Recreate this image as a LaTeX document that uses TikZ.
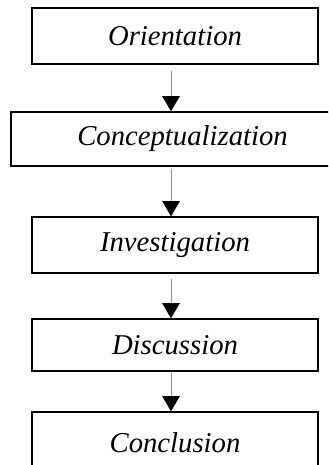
\documentclass[tikz,border=0pt]{standalone}
\usepackage{fontspec}
\setmainfont{Liberation Serif}
\usepackage{tikz}
\usetikzlibrary{arrows.meta}

\begin{document}
\begin{tikzpicture}[
  every node/.style={draw, line width=1.2pt, minimum width=8.58cm, inner sep=0pt, font=\fontsize{24.5}{28}\selectfont\itshape, align=center},
  flow/.style={draw=black!45, line width=0.8pt, -{Triangle[length=13pt,width=15pt,color=black]}},
  ]
  \clip (0,0) rectangle (9.84,-13.95);
  \node[minimum height=1.68cm] (orient) at (5.25,-1.08) {Orientation};
  \node[minimum height=1.62cm, minimum width=10.29cm] (concept) at (5.475,-4.17) {Conceptualization};
  \node[minimum height=1.68cm] (invest) at (5.25,-7.35) {Investigation};
  \node[minimum height=1.56cm] (discuss) at (5.25,-10.35) {Discussion};
  \node[minimum height=1.86cm] (concl) at (5.25,-13.29) {Conclusion};
  % arrows between the steps
  \draw[flow] ([xshift=-0.12cm,yshift=-0.18cm]orient.south) -- ([xshift=-0.345cm]concept.north);
  \draw[flow] ([xshift=-0.345cm,yshift=-0.06cm]concept.south) -- ([xshift=-0.12cm]invest.north);
  \draw[flow] ([xshift=-0.12cm,yshift=-0.15cm]invest.south) -- ([xshift=-0.12cm]discuss.north);
  \draw[flow] ([xshift=-0.12cm]discuss.south) -- ([xshift=-0.12cm]concl.north);
\end{tikzpicture}
\end{document}
